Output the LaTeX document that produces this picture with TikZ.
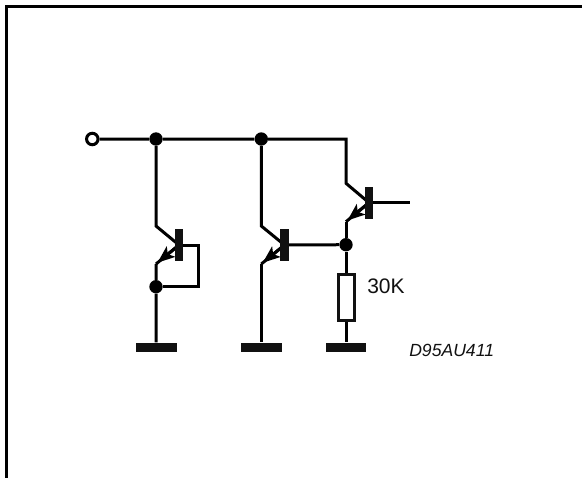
\documentclass[tikz,border=0pt]{standalone}
\usepackage{fontspec}
\setmainfont{Liberation Sans}
\usetikzlibrary{arrows.meta}
\definecolor{ink}{HTML}{111111}
\tikzset{
  wire/.style={draw=black,line width=2.25pt,line join=miter},
  frameline/.style={draw=black,line width=2.25pt},
  dot/.style={circle,fill=black,inner sep=0pt,minimum size=10pt},
  opendot/.style={circle,draw=black,fill=white,line width=2.25pt,inner sep=0pt,minimum size=8.6pt},
  basebar/.style={rectangle,fill=ink,inner sep=0pt,minimum width=6.2pt,minimum height=24pt},
  groundbar/.style={rectangle,fill=ink,inner sep=0pt,minimum width=30.5pt,minimum height=6.8pt},
  resbox/.style={rectangle,draw=ink,line width=2.25pt,fill=white,inner sep=0pt,minimum width=12pt,minimum height=34pt},
  emarrow/.style={draw=black,line width=2.25pt,-{Stealth[length=13pt,width=10pt,inset=3pt]}},
  lab/.style={inner sep=0pt,text=ink}
}
\begin{document}
\begin{tikzpicture}[x=0.75pt,y=-0.75pt]
\useasboundingbox (0,0) rectangle (582,478);
% frame
\coordinate (fbl) at (6.5,478);
\coordinate (ftl) at (6.5,6.5);
\coordinate (ftr) at (582,6.5);
\draw[frameline] (fbl) -- (ftl) -- (ftr);
% coordinates
\coordinate (c1) at (156,226);
\coordinate (e1) at (156,264);
\coordinate (c2) at (261.3,226);
\coordinate (e2) at (261.3,264);
\coordinate (c3) at (346,183.3);
\coordinate (e3) at (346,221.7);
\coordinate (top3) at (346,139);
\coordinate (bout) at (410,202.7);
\coordinate (h1) at (198.3,245);
\coordinate (h2) at (198.3,286.7);
\coordinate (t1) at (157.5,262.7);
\coordinate (t2) at (262.8,262.7);
\coordinate (t3) at (347.5,220.4);
\coordinate (b1) at (179,245);
\coordinate (b2) at (284.5,245);
\coordinate (b3) at (369,202.7);
% nodes
\node[opendot] (in) at (92.3,139) {};
\node[dot] (j1) at (156,139) {};
\node[dot] (j2) at (261.3,139) {};
\node[dot] (j3) at (156,286.7) {};
\node[dot] (j4) at (346,244.7) {};
\node[groundbar] (g1) at (156.2,347.2) {};
\node[groundbar] (g2) at (261.3,347.2) {};
\node[groundbar] (g3) at (346,347.2) {};
% wires
\draw[wire] (in) -- (j1) -- (j2) -- (top3) -- (c3) -- (b3);
\draw[wire] (j1) -- (c1) -- (b1);
\draw[wire] (j2) -- (c2) -- (b2);
\draw[wire] (b1) -- (h1) -- (h2) -- (j3);
\draw[wire] (e1) -- (j3) -- (g1);
\draw[wire] (e2) -- (g2);
\draw[wire] (e3) -- (j4);
\draw[wire] (b2) -- (j4);
\draw[wire] (b3) -- (bout);
\draw[wire] (j4) -- (g3);
\draw[wire] (b1) -- (e1);
\draw[wire] (b2) -- (e2);
\draw[wire] (b3) -- (e3);
\draw[emarrow] (b1) -- (t1);
\draw[emarrow] (b2) -- (t2);
\draw[emarrow] (b3) -- (t3);
\node[basebar] (q1) at (b1) {};
\node[basebar] (q2) at (b2) {};
\node[basebar] (q3) at (b3) {};
\node[resbox] (r) at (346,297.5) {};
\node[lab,anchor=west,font=\fontsize{15.75}{18}\selectfont] (rv) at (367,286) {30K};
\node[lab,anchor=west,font=\fontsize{13.2}{16}\selectfont\itshape] (code) at (409,350.7) {D95AU411};
\end{tikzpicture}
\end{document}
